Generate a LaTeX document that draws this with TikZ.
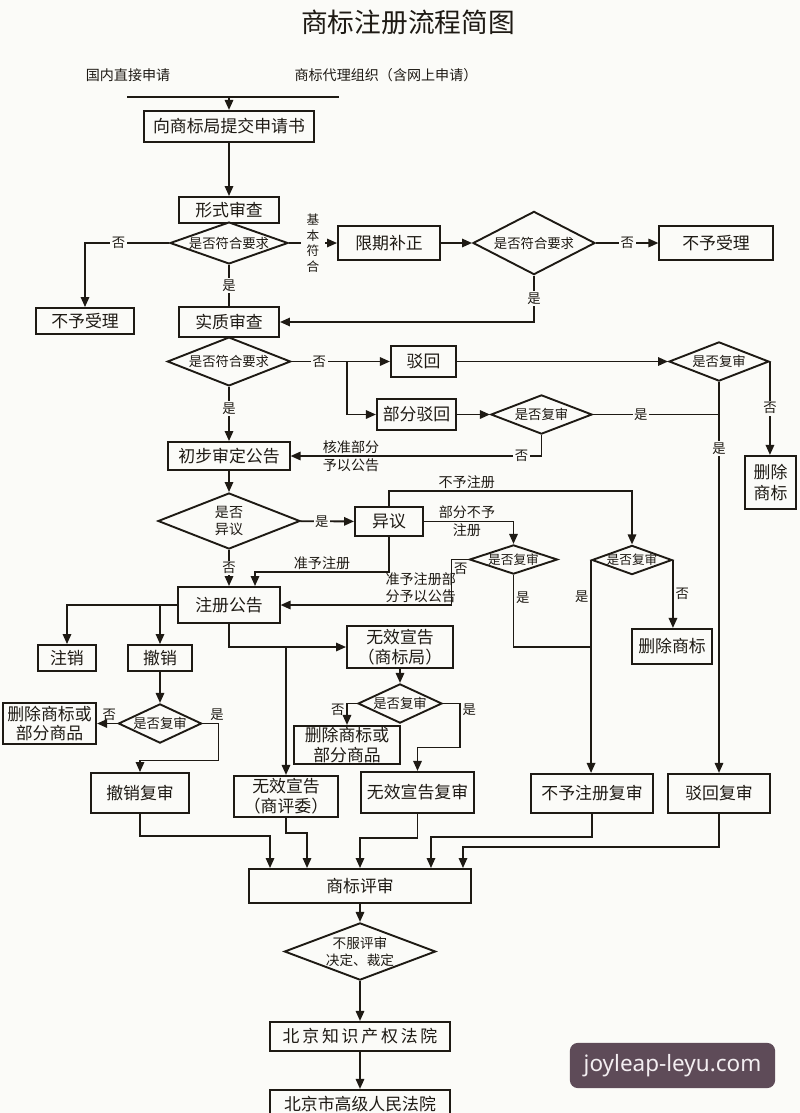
\documentclass[tikz,border=0pt]{standalone}
\usepackage{fontspec}
\setmainfont{Noto Sans CJK SC}
\newfontfamily\wmfont{Noto Sans}
\usepackage{tikz}
\usepackage{xcolor}
\usetikzlibrary{arrows.meta,positioning,shapes.geometric,calc}
\definecolor{paper}{HTML}{FBFBF8}
\definecolor{ink}{HTML}{1E1A14}
\definecolor{wmbg}{HTML}{5E4B58}
\definecolor{wmtext}{HTML}{F3EEF1}
\tikzset{
  box/.style={draw=ink,fill=paper,line width=1.35pt,inner sep=1pt,align=center,
              text=ink,font=\fontsize{12pt}{14pt}\selectfont},
  sz/.style 2 args={minimum width=#1,minimum height=#2},
  dia/.style={draw=ink,fill=paper,line width=1.35pt,shape=diamond,
              inner xsep=-14pt,inner ysep=-4pt,align=center,
              text=ink,font=\fontsize{9.5pt}{12pt}\selectfont},
  lbl/.style={fill=paper,inner sep=1.2pt,text=ink,
              font=\fontsize{9.5pt}{11pt}\selectfont},
  note/.style={inner sep=1.2pt,text=ink,align=center,
               font=\fontsize{10pt}{12pt}\selectfont},
  ln/.style={draw=ink,line width=1.3pt},
  arr/.style={ln,-{Triangle[length=2.5mm,width=2.1mm]}}
}

\begin{document}
\begin{tikzpicture}[x=0.025cm,y=-0.025cm]
  \useasboundingbox (0,0) rectangle (800,1113);
  \fill[paper] (0,0) rectangle (800,1113);

  % title and the two ways in
  \node[text=ink,font=\fontsize{19pt}{21pt}\selectfont] (title) at (408,22) {商标注册流程简图};
  \node[note] (srcA) at (128,75) {国内直接申请};
  \node[note] (srcB) at (386,75) {商标代理组织（含网上申请）};
  \coordinate (bl) at (127,97);
  \coordinate (br) at (339,97);
  \coordinate (bar) at (229,97);
  \draw[ln] (bl) -- (br);

  % formal and substantive examination
  \node[box,sz={4.25cm}{0.78cm}] (apply) at (229,126.5) {向商标局提交申请书};
  \node[box,sz={2.52cm}{0.65cm}] (form) at (229,210) {形式审查};
  \node[dia,sz={2.95cm}{1.0cm}] (chk1) at (229,243) {是否符合要求};
  \node[box,sz={2.45cm}{0.65cm}] (refuseA) at (85,321) {不予受理};
  \node[box,sz={2.5cm}{0.75cm}] (subst) at (229,322) {实质审查};
  \node[box,sz={2.55cm}{0.87cm}] (amend) at (389,243) {限期补正};
  \node[dia,sz={3.05cm}{1.58cm}] (chk2) at (534,243) {是否符合要求};
  \node[box,sz={2.83cm}{0.83cm}] (refuseB) at (716,243) {不予受理};

  \draw[arr] (bar) -- (apply);
  \draw[arr] (apply) -- (form);
  \draw[arr] (chk1.west) -| node[lbl,pos=0.3]{否} (refuseA.north);
  \draw[ln] (chk1.south) -- node[lbl]{是} (subst.north);
  \draw[arr] (chk1.east) -- node[lbl,inner xsep=4pt,align=center,
    font=\fontsize{9pt}{11pt}\selectfont]{基\\本\\符\\合} (amend.west);
  \draw[arr] (amend) -- (chk2);
  \draw[arr] (chk2) -- node[lbl]{否} (refuseB);
  \draw[arr] (chk2.south) |- node[lbl,pos=0.25]{是} (subst.east);

  % rejection branches
  \node[dia,sz={3.08cm}{1.22cm}] (chk3) at (229,361.5) {是否符合要求};
  \coordinate (split) at (347,361.5);
  \node[box,sz={1.63cm}{0.78cm}] (reject) at (423.5,361.5) {驳回};
  \node[box,sz={1.98cm}{0.78cm}] (partrej) at (416.5,414.5) {部分驳回};
  \node[dia,sz={2.53cm}{0.98cm}] (rev1) at (541.5,414.5) {是否复审};
  \node[dia,sz={2.5cm}{0.98cm}] (rev2) at (719,361.5) {是否复审};
  \node[box,sz={1.28cm}{1.33cm},font=\fontsize{12pt}{15pt}\selectfont] (delA) at (770.5,482.5) {删除\\商标};
  \node[box,sz={3.03cm}{0.7cm}] (prelim) at (229,456) {初步审定公告};
  \node[note] (apprA) at (351,447) {核准部分};
  \node[note] (apprB) at (351,465) {予以公告};

  \draw[ln] (chk3.east) -- node[lbl]{否} (split);
  \draw[arr] (split) -- (reject.west);
  \draw[arr] (split) |- (partrej.west);
  \draw[arr] (reject) -- (rev2);
  \draw[arr] (partrej) -- (rev1);
  \draw[arr] (rev2.east) -- node[lbl]{否} (rev2.east |- delA.north);
  \draw[ln] (rev1.east) -- node[lbl,pos=0.38]{是} (rev1.east -| rev2.south);
  \draw[arr] (rev1.south) |- node[lbl,pos=0.54]{否} (prelim.east);
  \draw[arr] (chk3.south) -- node[lbl,pos=0.4]{是} (prelim);

  % opposition
  \node[dia,sz={3.55cm}{1.4cm},font=\fontsize{10pt}{12.5pt}\selectfont] (opp) at (229,521) {是否\\异议};
  \node[box,sz={1.7cm}{0.73cm}] (objection) at (389,521.5) {异议};
  \node[dia,sz={2.2cm}{0.73cm},font=\fontsize{9pt}{11pt}\selectfont] (rev3) at (513.5,559.5) {是否复审};
  \node[dia,sz={2.0cm}{0.73cm},font=\fontsize{9pt}{11pt}\selectfont] (rev4) at (632,560) {是否复审};
  \node[box,sz={2.0cm}{0.88cm}] (delB) at (672,646.5) {删除商标};
  \node[box,sz={2.53cm}{0.9cm}] (regpub) at (229,605) {注册公告};
  \coordinate (grant) at (255,572);
  \coordinate (merge) at (592,647);

  \draw[arr] (prelim) -- (opp);
  \draw[arr] (opp) -- node[lbl,pos=0.4]{是} (objection);
  \draw[arr] (objection.north) -- ++(0,-15) -| node[note,above,pos=0.16]{不予注册} (rev4.north);
  \draw[arr] (objection.east) -| node[note,above,pos=0.24]{部分不予}
    node[note,below,pos=0.24]{注册} (rev3.north);
  \draw[arr] (rev3.west) -- ++(-17,0) |- node[lbl,right,pos=0.1,fill=none]{否}
    node[note,above,pos=0.59]{准予注册部\\分予以公告} (regpub.east);
  \draw[ln] (rev3.south) |- node[lbl,right,pos=0.16,fill=none]{是} (merge);
  \draw[arr] (rev4.east) -- node[lbl,right,fill=none]{否} (rev4.east |- delB.north);
  \draw[arr] (objection.south) |- node[note,above,pos=0.75]{准予注册} (grant) -- (grant |- regpub.north);
  \draw[arr] (opp) -- node[lbl]{否} (regpub);

  % after registration
  \node[box,sz={1.45cm}{0.65cm}] (cancel) at (67,658) {注销};
  \node[box,sz={1.6cm}{0.65cm}] (revoke) at (160,658) {撤销};
  \node[dia,sz={2.08cm}{0.98cm}] (rev5) at (160,723.5) {是否复审};
  \node[box,sz={2.33cm}{1.03cm}] (delC) at (49.5,723.5) {删除商标或\\部分商品};
  \node[box,sz={2.45cm}{1.0cm}] (revrev) at (140,793) {撤销复审};
  \node[box,sz={2.65cm}{1.03cm}] (invA) at (400,647) {无效宣告\\（商标局）};
  \node[dia,sz={2.1cm}{0.98cm}] (rev6) at (400,703.5) {是否复审};
  \node[box,sz={2.65cm}{0.9cm}] (delD) at (347,745) {删除商标或\\部分商品};
  \node[box,sz={2.6cm}{1.03cm}] (invB) at (286,796.5) {无效宣告\\（商评委）};
  \node[box,sz={2.83cm}{1.03cm}] (invrev) at (417.5,792.5) {无效宣告复审};
  \node[box,sz={3.03cm}{0.98cm}] (nregrev) at (592,793.5) {不予注册复审};
  \node[box,sz={2.53cm}{0.98cm}] (rejrev) at (719,793.5) {驳回复审};

  \draw[arr] (rev2) -- node[lbl,pos=0.17]{是} (rejrev);
  \draw[arr] (rev4.west) -- node[lbl,left,pos=0.17,fill=none]{是} (rev4.west |- nregrev.north);
  \draw[arr] (regpub.west) -| (cancel.north);
  \draw[arr] (regpub.west -| revoke.north) -- (revoke.north);
  \draw[arr] (revoke) -- (rev5);
  \draw[arr] (rev5) -- node[lbl,above,pos=0.4,fill=none]{否} (delC);
  \draw[arr] (rev5.east) -- node[lbl,above,pos=0.9,fill=none]{是} ++(16,0) -- ++(0,37) -| (revrev.north);
  \draw[arr] (regpub.south) |- (invA.west);
  \draw[arr] (invA.west -| invB.north) -- (invB.north);
  \draw[arr] (invA) -- (rev6);
  \draw[arr] (rev6.west) -| node[lbl,left,pos=0.65,fill=none]{否} (delD.north);
  \draw[arr] (rev6.east) -- ++(17,0) -- node[lbl,right,pos=0.15,fill=none]{是} ++(0,44) -| (invrev.north);

  % review board and courts
  \node[box,sz={5.55cm}{0.85cm}] (board) at (360,886) {商标评审};
  \node[dia,sz={3.78cm}{1.43cm},font=\fontsize{9.7pt}{12pt}\selectfont] (appeal) at (360,951.5) {不服评审\\决定、裁定};
  \node[box,sz={4.48cm}{0.73cm}] (court1) at (360,1036.5) {北\,京\,知\,识\,产\,权\,法\,院};
  \node[box,sz={4.5cm}{0.73cm}] (court2) at (360,1104.5) {北京市高级人民法院};

  \draw[arr] (revrev.south) -- ++(0,22) -| ([shift={(22,0)}]board.north west);
  \draw[arr] (invB.south) -- ++(0,15) -| ([shift={(59,0)}]board.north west);
  \draw[arr] (invrev.south) -- ++(0,24) -| (board.north);
  \draw[arr] (nregrev.south) -- ++(0,23) -| ([shift={(-41,0)}]board.north east);
  \draw[arr] (rejrev.south) -- ++(0,33) -| ([shift={(-9,0)}]board.north east);
  \draw[arr] (board) -- (appeal);
  \draw[arr] (appeal) -- (court1);
  \draw[arr] (court1) -- (court2);

  % watermark
  \node[fill=wmbg,rounded corners=0.2cm,minimum width=5.13cm,minimum height=1.13cm,
        text=wmtext,font=\wmfont\fontsize{16pt}{18pt}\selectfont] (mark) at (672.5,1065.5) {joyleap-leyu.com};
\end{tikzpicture}
\end{document}
